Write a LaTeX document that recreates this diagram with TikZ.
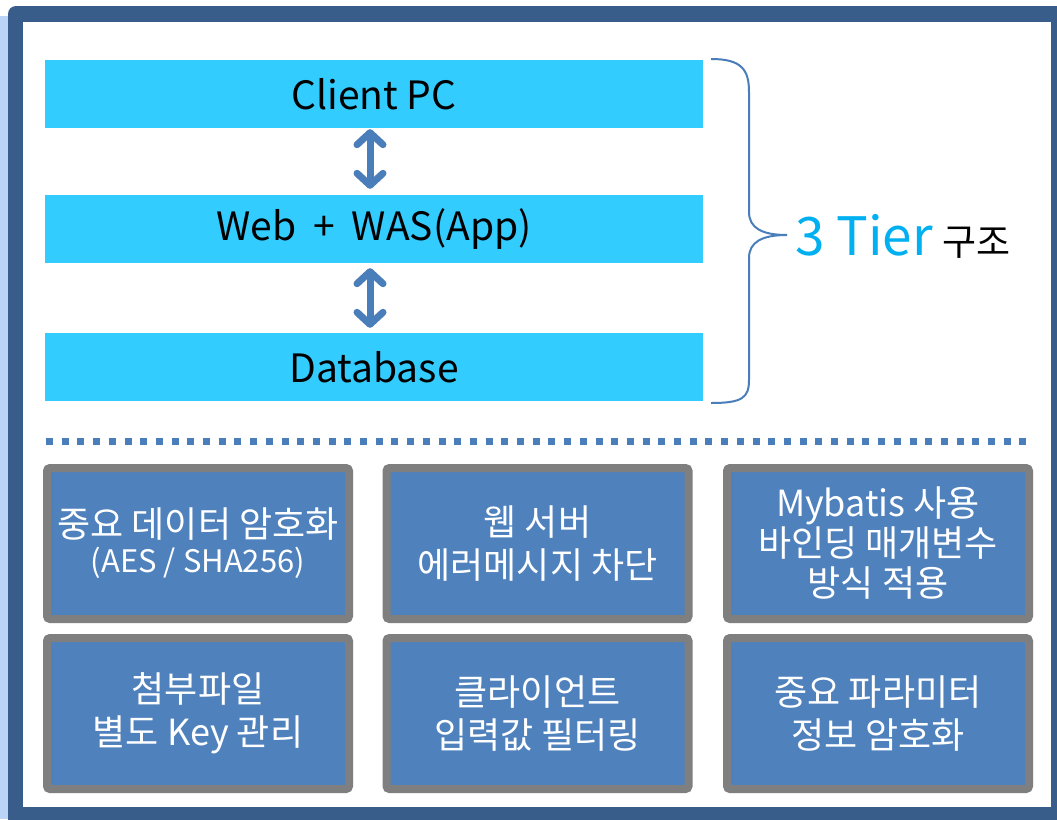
\documentclass[tikz,border=0pt]{standalone}
\usepackage{fontspec}
\setmainfont{Noto Sans CJK KR}
\usetikzlibrary{arrows.meta}

\definecolor{framecol}{HTML}{395D8A}
\definecolor{stripblue}{HTML}{B9D4F6}
\definecolor{tiercyan}{HTML}{33CCFF}
\definecolor{boxblue}{HTML}{4F81BD}
\definecolor{boxgray}{HTML}{7F7F7F}
\definecolor{linkblue}{HTML}{4A7EBB}
\definecolor{titlecyan}{HTML}{00B0F0}

\tikzset{
  tier/.style={fill=tiercyan, minimum width=658pt, minimum height=68pt,
    inner sep=0pt, font=\fontsize{39}{44}\selectfont},
  rule/.style={fill=boxblue, draw=boxgray, line width=8pt, rounded corners=3pt,
    minimum width=302pt, minimum height=151pt, inner sep=0pt, align=center,
    text=white, font=\fontsize{36}{43}\selectfont},
  updown/.style={draw=linkblue, line width=7pt,
    arrows={Straight Barb[round,length=12pt,width=26pt]-Straight Barb[round,length=12pt,width=26pt]}},
}

\begin{document}
\begin{tikzpicture}[x=1pt,y=-1pt]

      \clip (0,0) rectangle (1057,819);
      \useasboundingbox (0,0) rectangle (1057,819);

      % frame
      \fill[stripblue] (0,16) rectangle (8,819);
      \fill[framecol, rounded corners=8pt] (8,6) rectangle (1080,840);
      \fill[white] (23,22) rectangle (1051,807);

      \begin{scope}[every node/.style={tier}]
        \node (client) at (374,94)  {Client PC};
        \node (web)    at (374,229) {Web\hspace{17pt}+\hspace{17pt}WAS(App)};
        \node (db)     at (374,367) {Database};
      \end{scope}

      \begin{scope}[every edge/.style={updown}]
        \path ([xshift=-4pt]client.south) edge[shorten <=1pt, shorten >=6pt] ([xshift=-4pt]web.north);
        \path ([xshift=-4pt]web.south)    edge[shorten <=5pt, shorten >=5pt] ([xshift=-4pt]db.north);
      \end{scope}

      % brace
      \coordinate (tip) at (787,235);
      \draw[linkblue, line width=2pt]
        (711,59) .. controls (742,59) and (749,70) .. (749,92) -- (749,212)
        .. controls (749,228) and (762,235) .. (tip)
        .. controls (762,235) and (749,242) .. (749,258) -- (749,380)
        .. controls (749,398) and (742,403) .. (711,403);
      \node[anchor=west, inner sep=0pt] (title) at ([xshift=8pt,yshift=-1pt]tip)
        {{\color{titlecyan}\fontsize{53}{58}\selectfont 3 Tier}\hspace{10pt}{\fontsize{37}{40}\selectfont 구조}};

      % separator
      \draw[linkblue, line width=7pt, dash pattern=on 7pt off 8.7pt] (46,441.5) -- (1030,441.5);

      \begin{scope}[every node/.style={rule}]
        \node (crypt)  at (198,543.5)   {중요 데이터 암호화\\[-8pt]{\fontsize{31}{36}\selectfont (AES / SHA256)}};
        \node (errmsg) at (537.5,543.5) {웹 서버\\에러메시지 차단};
        \node (bind)   at (878,543.5)   {Mybatis 사용\\[-3pt]바인딩 매개변수\\[-3pt]방식 적용};
        \node (attach) at (198,713.5)   {첨부파일\\별도 Key 관리};
        \node (filter) at (537.5,713.5) {클라이언트\\입력값 필터링};
        \node (param)  at (878,713.5)   {중요 파라미터\\정보 암호화};
      \end{scope}

    \end{tikzpicture}
\end{document}
